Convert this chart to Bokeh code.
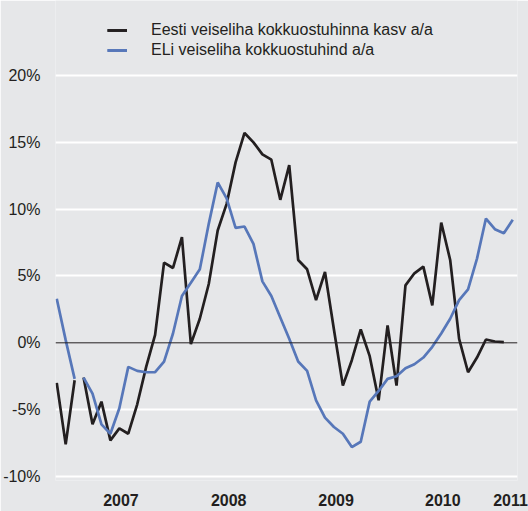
from bokeh.plotting import figure
from bokeh.models import FixedTicker, Span, Legend, LegendItem
from bokeh.embed import file_html
from bokeh.resources import INLINE

# month index: 0 = first month of the second (continuous) segment
months = list(range(-3, 49))
segment_break = 3  # lines are interrupted between index 2 and 3

eesti = [-3.0, -7.6, -2.8,
         -2.6, -6.1, -4.4, -7.3, -6.4, -6.8, -4.6, -1.8, 0.6, 6.0, 5.6, 7.9,
         -0.1, 1.8, 4.4, 8.4, 10.4, 13.5, 15.7, 15.0, 14.1, 13.7, 10.7, 13.3,
         6.2, 5.5, 3.2, 5.3, 1.0, -3.2, -1.3, 1.0, -1.0, -4.3, 1.3, -3.2,
         4.3, 5.2, 5.7, 2.8, 9.0, 6.2, 0.3, -2.2, -1.1, 0.25, 0.1, 0.05]

eli = [3.3, 0.2, -2.7,
       -2.6, -3.8, -6.1, -6.8, -4.9, -1.8, -2.1, -2.2, -2.2, -1.4, 0.7, 3.5,
       4.5, 5.5, 8.9, 12.0, 10.8, 8.6, 8.7, 7.4, 4.6, 3.5, 1.9, 0.3,
       -1.4, -2.1, -4.3, -5.6, -6.3, -6.8, -7.8, -7.4, -4.4, -3.6, -2.7, -2.5,
       -1.9, -1.6, -1.1, -0.3, 0.7, 1.8, 3.2, 4.0, 6.3, 9.3, 8.5, 8.2, 9.2]

year_labels = ["2007", "2008", "2009", "2010", "2011"]
year_ticks = [4.18, 16.23, 28.24, 40.18, 47.75]
y_ticks = [-10, -5, 0, 5, 10, 15, 20]

legend_eesti = "Eesti veiseliha kokkuostuhinna kasv a/a"
legend_eli = "ELi veiseliha kokkuostuhind a/a"

BG = "#e6e7e9"
TEXT = "#231f20"
BLACK = "#231f20"
BLUE = "#5777b9"
FONT = "Liberation Sans"

p = figure(width=528, height=511, output_backend="svg", toolbar_location=None,
           x_range=(-3.14, 48.53), y_range=(-10.3, 25.61),
           min_border_left=51, min_border_right=11, min_border_top=0, min_border_bottom=31)
p.background_fill_color = BG
p.border_fill_color = BG
p.outline_line_color = None

for ax in (p.xaxis[0], p.yaxis[0]):
    ax.axis_line_color = None
    ax.major_tick_line_color = None
    ax.minor_tick_line_color = None
    ax.major_label_text_font = FONT
    ax.major_label_text_font_size = "16px"
    ax.major_label_text_color = TEXT

p.yaxis.ticker = FixedTicker(ticks=y_ticks)
p.yaxis.major_label_overrides = {t: f"{t}%" for t in y_ticks}
p.yaxis.major_label_standoff = 9

p.xaxis.ticker = FixedTicker(ticks=year_ticks)
p.xaxis.major_label_overrides = dict(zip(year_ticks, year_labels))
p.xaxis.major_label_text_font_style = "bold"
p.xaxis.major_label_standoff = 7

p.xgrid.grid_line_color = None
p.ygrid.ticker = FixedTicker(ticks=[t for t in y_ticks if t != 0])
p.ygrid.grid_line_color = "white"
p.ygrid.grid_line_width = 2

p.add_layout(Span(location=0, dimension="width", line_color=BLACK, line_width=1))

renderers = {}
for name, vals, color in (("eesti", eesti, BLACK), ("eli", eli, BLUE)):
    xs = months[:len(vals)]
    r1 = p.line(xs[:segment_break], vals[:segment_break], line_color=color, line_width=2.7)
    r2 = p.line(xs[segment_break:], vals[segment_break:], line_color=color, line_width=2.7)
    renderers[name] = [r2, r1]

legend = Legend(items=[LegendItem(label=legend_eesti, renderers=renderers["eesti"]),
                       LegendItem(label=legend_eli, renderers=renderers["eli"])],
                location=(52, 420))
legend.label_text_font = FONT
legend.label_text_font_size = "16px"
legend.label_text_color = TEXT
legend.glyph_width = 20
legend.glyph_height = 20
legend.label_height = 20
legend.spacing = 0
legend.padding = 0
legend.margin = 0
legend.label_standoff = 24
legend.border_line_alpha = 0
legend.background_fill_alpha = 0
p.add_layout(legend)

open("out.html", "w").write(file_html(p, INLINE))
